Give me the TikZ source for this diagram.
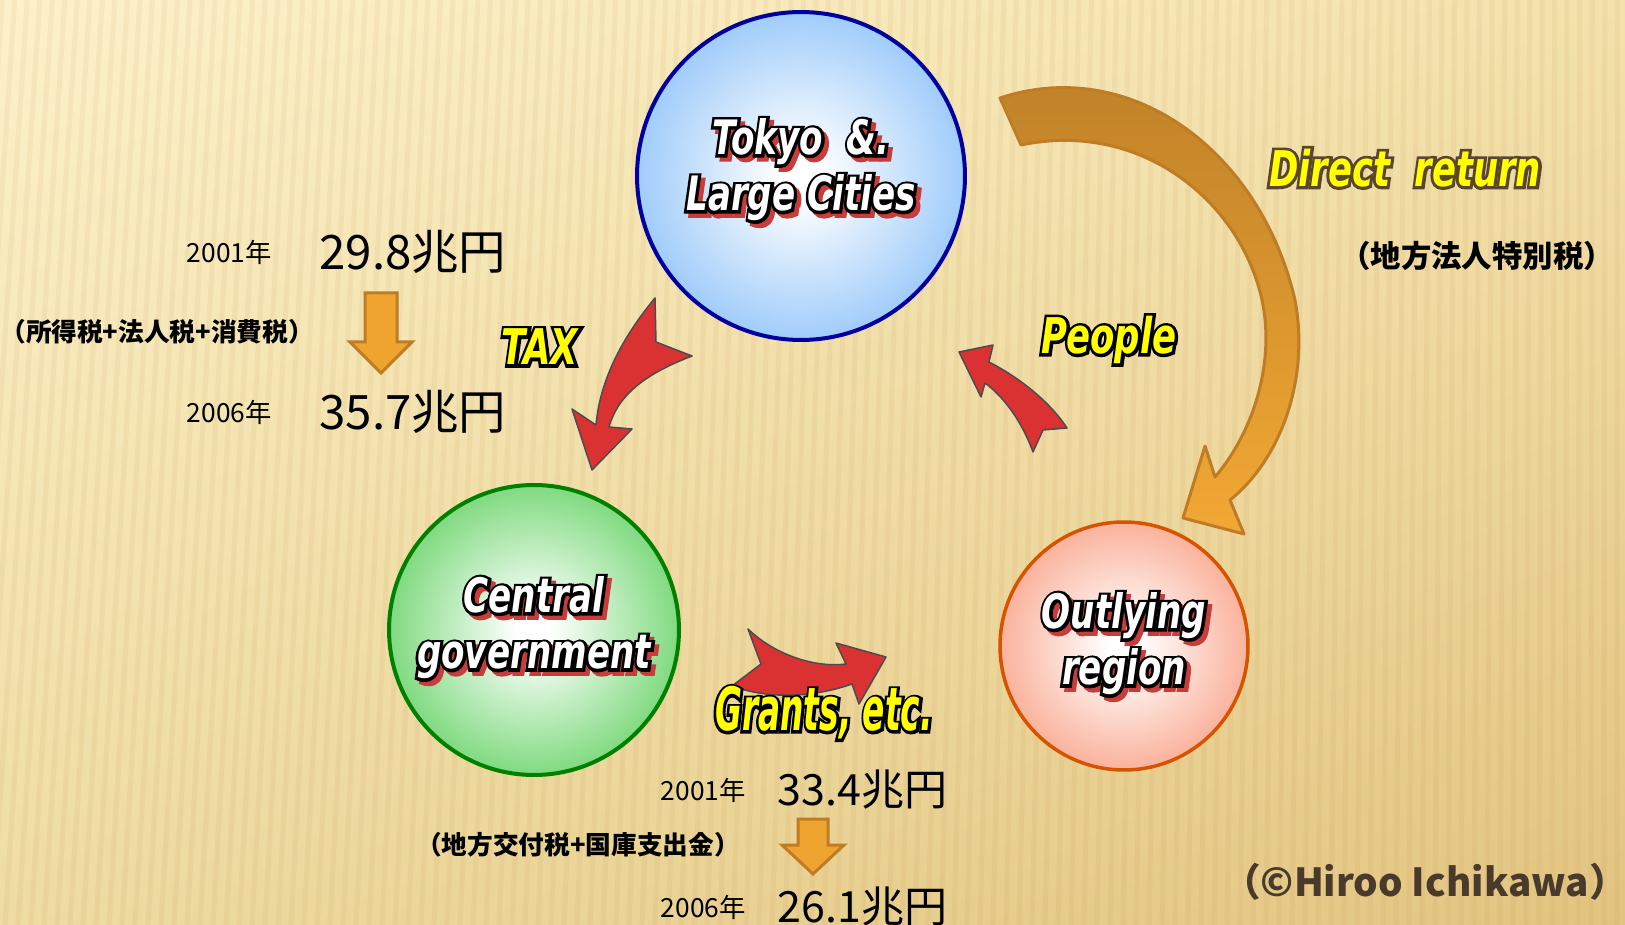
\documentclass[tikz,border=0pt]{standalone}
\usepackage{fontspec}
\setmainfont{Noto Sans CJK JP}
\newfontfamily\flowfont{DejaVu Sans}[FakeStretch=0.72]
\newfontfamily\flowfat{DejaVu Sans}[FakeStretch=0.72, FakeBold=12]
\newfontfamily\grantfont{DejaVu Sans}[FakeStretch=0.55]
\newfontfamily\grantfat{DejaVu Sans}[FakeStretch=0.55, FakeBold=9]
\usetikzlibrary{positioning}
\usetikzlibrary{shadings}

\definecolor{bgA}{RGB}{252,241,202}
\definecolor{bgB}{RGB}{243,226,172}
\definecolor{bgC}{RGB}{238,220,162}
\definecolor{bgD}{RGB}{226,196,128}
\definecolor{tokyoblue}{RGB}{160,204,250}
\definecolor{tokyoedge}{RGB}{0,0,160}
\definecolor{govgreen}{RGB}{128,218,128}
\definecolor{govedge}{RGB}{0,128,0}
\definecolor{outsalmon}{RGB}{250,178,156}
\definecolor{outedge}{RGB}{214,84,0}
\definecolor{flowred}{RGB}{218,50,50}
\definecolor{droporange}{RGB}{240,164,48}
\definecolor{dropedge}{RGB}{190,124,36}
\definecolor{returntop}{RGB}{190,128,40}
\definecolor{returnbot}{RGB}{242,168,52}
\definecolor{returnedge}{RGB}{90,70,45}
\definecolor{labelyellow}{RGB}{255,255,0}
\definecolor{shadowred}{RGB}{200,60,60}
\definecolor{credit}{RGB}{74,58,44}

\pgfdeclareradialshading{tokyoglow}{\pgfpointorigin}{color(0bp)=(white);color(3bp)=(white);color(25bp)=(tokyoblue);color(50bp)=(tokyoblue)}
\pgfdeclareradialshading{govglow}{\pgfpointorigin}{color(0bp)=(white);color(3bp)=(white);color(25bp)=(govgreen);color(50bp)=(govgreen)}
\pgfdeclareradialshading{outglow}{\pgfpointorigin}{color(0bp)=(white);color(3bp)=(white);color(25bp)=(outsalmon);color(50bp)=(outsalmon)}

% fat stroked copy under a plain one
\newcommand\cityline[1]{{%
  \rlap{\kern2.4pt\lower2.4pt\hbox{\color{shadowred}\flowfat #1}}%
  \rlap{\color{black}\flowfat #1}%
  \color{white}#1}}
\newcommand\flowline[2]{{\rlap{\color{#1}\flowfat #2}\color{labelyellow}#2}}
\newcommand\grantline[1]{{\rlap{\color{black}\grantfat #1}\color{labelyellow}#1}}

\begin{document}
\begin{tikzpicture}[x=0.02cm, y=-0.02cm,
    city/.style = {circle, shade, line width=0.08cm, inner sep=0pt, align=center,
        font=\flowfont\bfseries\itshape\fontsize{27}{32}\selectfont},
    flowlabel/.style = {inner sep=0pt,
        font=\flowfont\bfseries\itshape\fontsize{28}{32}\selectfont},
    flowarrow/.style = {fill=flowred, draw=gray!60!black, line width=0.03cm, line join=round},
    drop/.style = {fill=droporange, draw=dropedge, line width=0.06cm},
    value/.style = {inner sep=0pt, font=\fontsize{27}{30}\selectfont},
    year/.style = {inner sep=0pt, font=\fontsize{15}{18}\selectfont},
    note/.style = {inner sep=0pt, font=\bfseries\fontsize{14.6}{17}\selectfont},
    stripe/.style = {draw=brown, opacity=0.08, line width=0.1cm}]

    \useasboundingbox (0,0) rectangle (1625,925);
    \shade[upper left=bgA, upper right=bgB, lower left=bgC, lower right=bgD]
        (0,0) rectangle (1625,925);
    \foreach \x in {-60,-47,...,1640}
        \draw[stripe] (\x,925) -- ({\x+60*(1-\x/1625)},0);

    % the three places
    \node[city, shading=tokyoglow, draw=tokyoedge, minimum size=6.56cm, text depth=0.45cm] (tokyo) at (801,176)
        {\cityline{Tokyo\ \ \&.}\\\cityline{Large Cities}};
    \node[city, shading=govglow, draw=govedge, minimum size=5.8cm] (gov) at (534,630)
        {\cityline{Central}\\\cityline{government}};
    \node[city, shading=outglow, draw=outedge, line width=0.07cm, minimum size=4.96cm] (outer) at (1124,646)
        {\cityline{Outlying}\\\cityline{region}};

    % flows
    \coordinate (taxtip) at (592,470);
    \filldraw[flowarrow] (655,298) .. controls (622,338) and (600,380) .. (596,425) -- (572,409)
        -- (taxtip) -- (632,429) -- (609,427) .. controls (618,395) and (645,374) .. (692,356)
        -- (656,342) -- cycle;
    \coordinate (peopletip) at (959,352);
    \filldraw[flowarrow] (peopletip) -- (993,345) -- (989,362) .. controls (1020,378) and (1050,402) .. (1067,428)
        -- (1043,430) -- (1033,452) .. controls (1022,422) and (1005,398) .. (985,383)
        -- (981,397) -- cycle;
    \coordinate (grantstip) at (886,657);
    \filldraw[flowarrow] (748,629) .. controls (775,655) and (815,668) .. (846,664) -- (836,643)
        -- (grantstip) -- (859,704) -- (852,684) .. controls (815,697) and (770,700) .. (732,686)
        -- (761,664) -- cycle;
    \coordinate (returntip) at (1183,518);
    \shadedraw[top color=returntop, bottom color=returnbot, draw=dropedge, line width=0.06cm, line join=round]
        (1000,98) .. controls (1130,55) and (1260,150) .. (1295,300)
        .. controls (1310,380) and (1280,460) .. (1230,500) -- (1244,534) -- (returntip)
        -- (1205,446) -- (1215,477) .. controls (1255,430) and (1275,360) .. (1262,300)
        .. controls (1240,200) and (1140,120) .. (1021,145) -- cycle;

    \node[flowlabel] (taxlabel) at (540,347) {\flowline{black}{TAX}};
    \node[flowlabel] (peoplelabel) at (1109,340) {\flowline{black}{People}};
    \node[flowlabel, font=\grantfont\bfseries\itshape\fontsize{34}{38}\selectfont] (grantslabel) at (824,713)
        {\grantline{Grants, etc.}};
    \node[flowlabel] (returnlabel) at (1405,168) {\flowline{returnedge}{Direct\ \ return}};
    \node[note, font=\bfseries\fontsize{17.3}{20}\selectfont] (localtax) at (1477,256) {（地方法人特別税）};

    % tax figures
    \node[value, anchor=west] (taxnow) at (319,252) {29.8兆円};
    \node[year, left=0.94cm of taxnow] (taxyear) {2001年};
    \node[note, anchor=west] (taxnote) at (0,332) {（所得税+法人税+消費税）};
    \coordinate (drop1) at (381,293);
    \draw[drop] (drop1) -- ++(16,0) -- ++(0,49) -- ++(15,0) -- ++(-31,31) -- ++(-31,-31)
        -- ++(15,0) -- ++(0,-49) -- cycle;
    \node[value, anchor=west] (taxlater) at (319,412) {35.7兆円};
    \node[year, left=0.94cm of taxlater] (taxlateryear) {2006年};

    % grant figures
    \node[value, anchor=west, font=\fontsize{24.5}{28}\selectfont] (grantnow) at (777,790) {33.4兆円};
    \node[year, left=0.62cm of grantnow] (grantyear) {2001年};
    \node[note] (grantnote) at (578,845) {（地方交付税+国庫支出金）};
    \coordinate (drop2) at (813,819);
    \draw[drop] (drop2) -- ++(15,0) -- ++(0,26) -- ++(16,0) -- ++(-31,29) -- ++(-31,-29)
        -- ++(16,0) -- ++(0,-26) -- cycle;
    \node[value, anchor=west, font=\fontsize{24.5}{28}\selectfont] (grantlater) at (777,907) {26.1兆円};
    \node[year, left=0.62cm of grantlater] (grantlateryear) {2006年};

    \node[inner sep=0pt, text=credit, font=\bfseries\fontsize{22}{26}\selectfont] (credit) at (1425,882)
        {（©Hiroo Ichikawa）};
\end{tikzpicture}
\end{document}
